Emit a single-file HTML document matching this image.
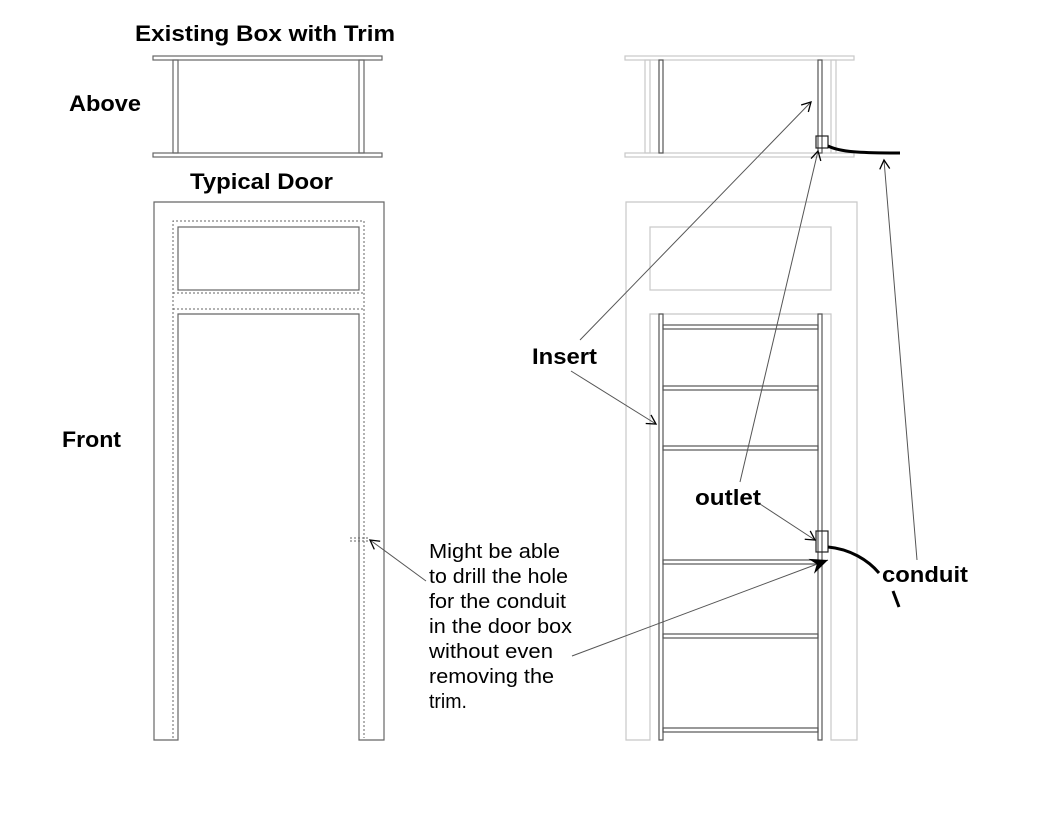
<!DOCTYPE html>
<html><head><meta charset="utf-8"><style>
html,body{margin:0;padding:0;background:#fff;}
svg{display:block;}
text{font-family:"Liberation Sans",Arial,sans-serif;fill:#000;}
.b{font-weight:bold;font-size:22px;}
.n{font-size:20px;}
</style></head><body>
<svg width="1056" height="816" viewBox="0 0 1056 816" xmlns="http://www.w3.org/2000/svg">
<defs>
<marker id="a" markerWidth="12" markerHeight="12" refX="10" refY="6" orient="auto" markerUnits="userSpaceOnUse">
<path d="M1,1 L10,6 L1,11" fill="none" stroke="#000" stroke-width="1.3"/></marker>
<marker id="ab" markerWidth="20" markerHeight="16" refX="18" refY="8" orient="auto" markerUnits="userSpaceOnUse">
<path d="M0,0 L18,8 L0,16 L6,8 Z" fill="#000"/></marker>
</defs>
<!-- labels -->
<text class="b" x="135" y="41" textLength="260" lengthAdjust="spacingAndGlyphs">Existing Box with Trim</text>
<text class="b" x="69" y="111" textLength="72" lengthAdjust="spacingAndGlyphs">Above</text>
<text class="b" x="190" y="189" textLength="143" lengthAdjust="spacingAndGlyphs">Typical Door</text>
<text class="b" x="62" y="447" textLength="59" lengthAdjust="spacingAndGlyphs">Front</text>
<text class="b" x="532" y="364" textLength="65" lengthAdjust="spacingAndGlyphs">Insert</text>
<text class="b" x="695" y="505" textLength="66" lengthAdjust="spacingAndGlyphs">outlet</text>
<text class="b" x="882" y="582" textLength="86" lengthAdjust="spacingAndGlyphs">conduit</text>
<text class="n" x="429" y="558" textLength="131" lengthAdjust="spacingAndGlyphs">Might be able</text>
<text class="n" x="429" y="583" textLength="139" lengthAdjust="spacingAndGlyphs">to drill the hole</text>
<text class="n" x="429" y="608" textLength="137" lengthAdjust="spacingAndGlyphs">for the conduit</text>
<text class="n" x="429" y="633" textLength="143" lengthAdjust="spacingAndGlyphs">in the door box</text>
<text class="n" x="429" y="658" textLength="124" lengthAdjust="spacingAndGlyphs">without even</text>
<text class="n" x="429" y="683" textLength="125" lengthAdjust="spacingAndGlyphs">removing the</text>
<text class="n" x="429" y="708" textLength="38" lengthAdjust="spacingAndGlyphs">trim.</text>
<!-- left top view -->
<g fill="none" stroke="#666" stroke-width="1.2">
<rect x="153" y="56" width="229" height="4"/>
<rect x="153" y="153" width="229" height="4"/>
<rect x="173" y="60" width="5" height="93"/>
<rect x="359" y="60" width="5" height="93"/>
<path d="M154,740 V202 H384 V740 H359 V314 H178 V740 Z"/>
<rect x="178" y="227" width="181" height="63"/>
</g>
<g fill="none" stroke="#666" stroke-width="1" stroke-dasharray="2,2">
<path d="M173,738 V221 H364 V738"/>
<path d="M173,293 H364 M173,309 H364"/>
<path d="M350,538 H368 M350,541 H368"/>
</g>
<!-- right (gray) -->
<g fill="none" stroke="#c8c8c8" stroke-width="1.2">
<rect x="625" y="56" width="229" height="4"/>
<rect x="625" y="153" width="229" height="4"/>
<rect x="645" y="60" width="5" height="93"/>
<rect x="831" y="60" width="5" height="93"/>
<path d="M626,740 V202 H857 V740 H831 V314 H650 V740 Z"/>
<rect x="650" y="227" width="181" height="63"/>
</g>
<g fill="none" stroke="#555" stroke-width="1.2">
<rect x="659" y="60" width="4" height="93"/>
<rect x="818" y="60" width="4" height="93"/>
<rect x="816" y="136" width="12" height="12" stroke="#222"/>
<rect x="659" y="314" width="4" height="426"/>
<rect x="818" y="314" width="4" height="426"/>
<rect x="663" y="325" width="155" height="4"/>
<rect x="663" y="386" width="155" height="4"/>
<rect x="663" y="446" width="155" height="4"/>
<rect x="663" y="560" width="155" height="4"/>
<rect x="663" y="634" width="155" height="4"/>
<rect x="663" y="728" width="155" height="4"/>
<rect x="816" y="531" width="12" height="21" stroke="#222"/>
</g>
<g fill="none" stroke="#000" stroke-width="3">
<path d="M828,146 C840,152 860,153 900,153"/>
<path d="M828,547 C850,549 868,560 879,573"/>
<path d="M893,591 L899,607"/>
</g>
<g fill="none" stroke="#555" stroke-width="1">
<path d="M580,340 L811,102" marker-end="url(#a)"/>
<path d="M571,371 L656,424" marker-end="url(#a)"/>
<path d="M740,482 L818,151" marker-end="url(#a)"/>
<path d="M760,504 L815,540" marker-end="url(#a)"/>
<path d="M917,560 L884,160" marker-end="url(#a)"/>
<path d="M426,581 L370,540" marker-end="url(#a)"/>
<path d="M572,656 L828,560" marker-end="url(#ab)"/>
</g>
</svg>
</body></html>
